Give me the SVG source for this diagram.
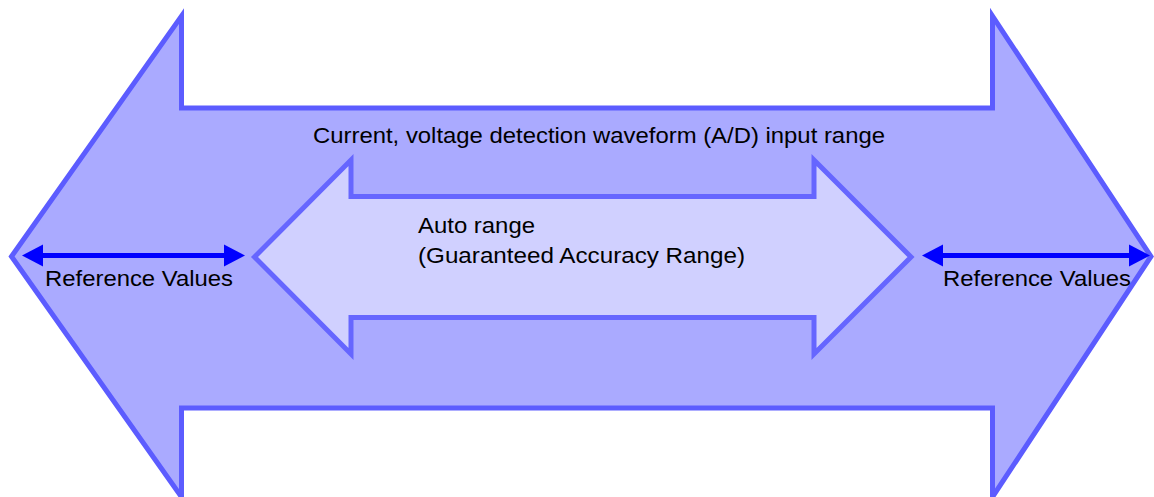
<svg xmlns="http://www.w3.org/2000/svg" width="1154" height="497" viewBox="0 0 1154 497">
<style>
.outer{fill:#aaaaff;stroke:#5c5cff;stroke-width:5;stroke-linejoin:miter;stroke-miterlimit:10}
.inner{fill:#d0d0ff;stroke:#6666ff;stroke-width:5;stroke-linejoin:miter;stroke-miterlimit:10}
.lbl{font-family:"Liberation Sans",Arial,sans-serif;font-size:22px;fill:#000}
.conn{stroke:#0000ff;stroke-width:5;fill:none}
</style>
<defs>
<marker id="ah" markerUnits="userSpaceOnUse" markerWidth="22" markerHeight="24" refX="0" refY="12" orient="auto-start-reverse">
<path d="M0,1 L21,12 L0,23 Z" fill="#0000ff"/>
</marker>
</defs>
<rect width="1154" height="497" fill="#ffffff"/>
<g id="outer-arrow">
<polygon class="outer" points="11.5,256.5 181.5,16 181.5,108 992.5,108 992.5,16 1151,256.5 992.5,497 992.5,408 181.5,408 181.5,497"/>
<text class="lbl" x="313" y="143" textLength="572" lengthAdjust="spacingAndGlyphs">Current, voltage detection waveform (A/D) input range</text>
</g>
<g id="inner-arrow">
<polygon class="inner" points="254.5,257 351,160 351,196.5 814,196.5 814,160 911,257 814,354 814,317.5 351,317.5 351,354"/>
<text class="lbl" x="418" y="233" textLength="117" lengthAdjust="spacingAndGlyphs">Auto range</text>
<text class="lbl" x="418" y="263" textLength="327" lengthAdjust="spacingAndGlyphs">(Guaranteed Accuracy Range)</text>
</g>
<g id="left-reference">
<text class="lbl" x="45" y="286" textLength="188" lengthAdjust="spacingAndGlyphs">Reference Values</text>
</g>
<g id="right-reference">
<text class="lbl" x="943" y="286" textLength="188" lengthAdjust="spacingAndGlyphs">Reference Values</text>
</g>
<g id="connectors">
<line class="conn" x1="43" y1="255.5" x2="224" y2="255.5" marker-start="url(#ah)" marker-end="url(#ah)"/>
<line class="conn" x1="943" y1="255.5" x2="1129" y2="255.5" marker-start="url(#ah)" marker-end="url(#ah)"/>
</g>
</svg>
